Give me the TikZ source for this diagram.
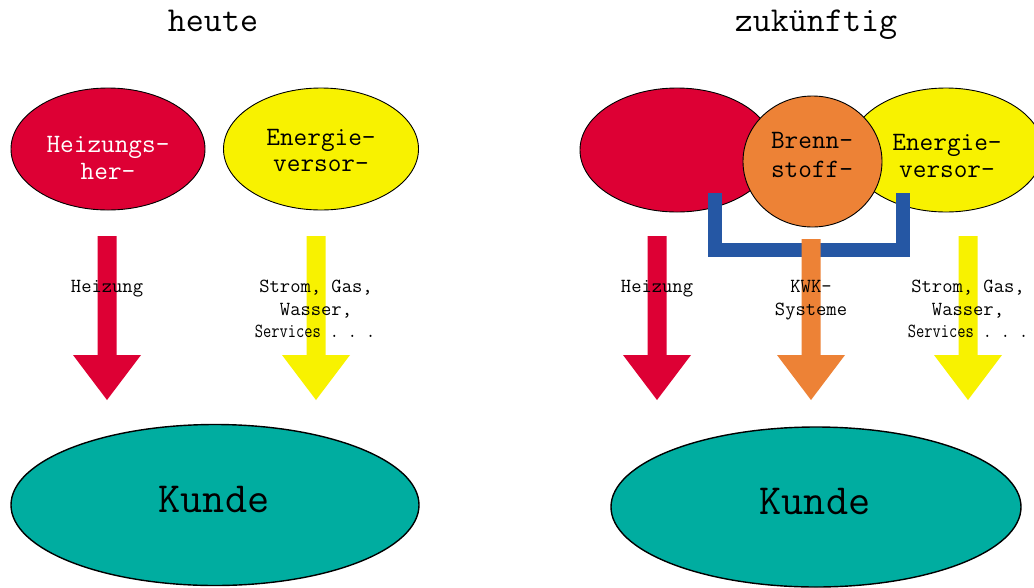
\documentclass[tikz,border=0pt]{standalone}
\usepackage{fontspec}
\usepackage{graphicx}
\definecolor{cred}{HTML}{DD0034}
\definecolor{cyellow}{HTML}{F8F200}
\definecolor{cteal}{HTML}{00ADA0}
\definecolor{corange}{HTML}{ED8236}
\definecolor{cblue}{HTML}{2557A4}
\tikzset{
  bubble/.style={draw=black, line width=0.9pt},
  txt/.style={inner sep=0pt, anchor=base, font=\ttfamily},
  title/.style={txt, font=\ttfamily\fontsize{35}{35}\selectfont},
  big/.style={txt, font=\ttfamily\fontsize{43}{43}\selectfont},
  etxt/.style={txt, font=\ttfamily\fontsize{26.5}{26.5}\selectfont},
  ltxt/.style={txt, font=\ttfamily\fontsize{20}{20}\selectfont},
}
\newcommand{\blockarr}[3]{% x, ytop, colour
  \fill[#3] (#1-9.5,#2) -- (#1+9.5,#2) -- (#1+9.5,355) -- (#1+34,355) -- (#1,400) -- (#1-34,355) -- (#1-9.5,355) -- cycle;}
\newcommand{\servline}{\scalebox{0.8}[1]{Services}\scalebox{0.88}[1]{\ .\ .\ .}}
\begin{document}
\begin{tikzpicture}[x=1pt,y=-1pt]
\clip (0,0) rectangle (1034,587);
\fill[white] (0,0) rectangle (1034,587);

% titles
\node[title] (t1) at (213,31) {heute};
\node[title] (t2) at (816,31) {zukünftig};

% ---- left side ----
\filldraw[bubble, fill=cred] (108,149) ellipse [x radius=97, y radius=61];
\node[etxt, text=white] (lh1) at (108,152) {Heizungs-};
\node[etxt, text=white] (lh2) at (108,179) {her-};
\filldraw[bubble, fill=cyellow] (321,149) ellipse [x radius=97.5, y radius=61];
\node[etxt] (le1) at (321,145) {Energie-};
\node[etxt] (le2) at (321,171) {versor-};

\blockarr{107}{236}{cred}
\blockarr{316}{236}{cyellow}
\node[ltxt] (lab1) at (107,292) {Heizung};
\node[ltxt] (lab2) at (316,292) {Strom, Gas,};
\node[ltxt] (lab3) at (316,315) {Wasser,};
\node[ltxt] (lab4) at (315,337) {\servline};

\filldraw[draw=black, line width=1.4pt, fill=cteal] (215,505) ellipse [x radius=204, y radius=80.5];
\node[big] (k1) at (214,512) {Kunde};

% ---- right side ----
\filldraw[bubble, fill=cred] (677,150) ellipse [x radius=97, y radius=62];
\filldraw[bubble, fill=cyellow] (946,150) ellipse [x radius=97, y radius=62];
\filldraw[bubble, fill=corange] (812.5,161.5) ellipse [x radius=69.5, y radius=65.5];
\node[etxt] (rb1) at (812,148) {Brenn-};
\node[etxt] (rb2) at (812,177) {stoff-};
\node[etxt] (re1) at (947,150) {Energie-};
\node[etxt] (re2) at (947,177) {versor-};

\draw[cblue, line width=13.5pt, line join=miter] (715,193) -- (715,250) -- (903,250) -- (903,193);

\blockarr{657}{236}{cred}
\blockarr{811}{239}{corange}
\blockarr{968}{236}{cyellow}
\node[ltxt] (rlab1) at (657,292) {Heizung};
\node[ltxt] (rlab2) at (811,292) {KWK-};
\node[ltxt] (rlab3) at (811,315) {Systeme};
\node[ltxt] (rlab4) at (968,292) {Strom, Gas,};
\node[ltxt] (rlab5) at (968,315) {Wasser,};
\node[ltxt] (rlab6) at (968,337) {\servline};

\filldraw[draw=black, line width=1.4pt, fill=cteal] (816,507) ellipse [x radius=205, y radius=80];
\node[big] (k2) at (815,514) {Kunde};
\end{tikzpicture}
\end{document}
